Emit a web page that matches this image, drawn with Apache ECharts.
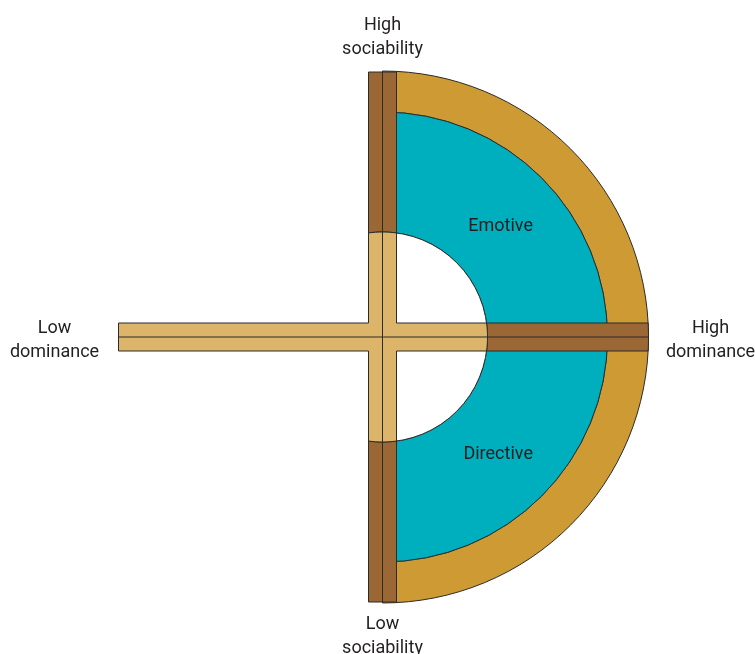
<!DOCTYPE html>
<html>
<head>
<meta charset="utf-8">
<script src="https://cdn.jsdelivr.net/npm/echarts@6/dist/echarts.min.js"></script>
<style>
html,body{margin:0;padding:0;background:#fff;}
#chart{width:755px;height:654px;}
</style>
</head>
<body>
<div id="chart"></div>
<script>
// ---- data ----
const bandRadii = [105, 225, 266];          // hole edge, quadrant edge, rim (diagram units)
const quadrantLabels = ['Emotive', 'Directive'];
const axisEndLabels = ['High\nsociability', 'Low\nsociability', 'Low\ndominance', 'High\ndominance'];
const lowDominanceArm = 264;                 // length of the low-dominance arm
const armHalfWidth = 14;

// ---- styles ----
const C = {
  gold: '#CD9A33', cyan: '#00AFBD', brown: '#9A6735', tan: '#DCB56B',
  stroke: '#2b2b2b', text: '#231f20'
};
const FONT = '18px Roboto, "Noto Sans", sans-serif';
const TEXT_DROP = 3.5; // small downward nudge for glyph baseline

const chart = echarts.init(document.getElementById('chart'), null, {renderer: 'canvas'});

function renderItem(params, api) {
  const [hole, mid, rim] = bandRadii;
  const w = armHalfWidth;
  const c = api.coord([0, 0]);
  const px = v => api.size([v, 0])[0];
  const P = (x, y) => api.coord([x, y]);
  const arcPts = (r, pts, fromA, toA, n) => {
    for (let i = 0; i <= n; i++) {
      const a = fromA + (toA - fromA) * i / n;
      pts.push(P(r * Math.cos(a), r * Math.sin(a)));
    }
  };
  const lineStyle = {stroke: C.stroke, lineWidth: 1};
  const ch = [];
  ch.push({type: 'sector', shape: {cx: c[0], cy: c[1], r0: px(mid), r: px(rim), startAngle: -Math.PI / 2, endAngle: Math.PI / 2, clockwise: true},
    style: Object.assign({fill: C.gold}, lineStyle)});
  ch.push({type: 'sector', shape: {cx: c[0], cy: c[1], r0: px(hole), r: px(mid), startAngle: -Math.PI / 2, endAngle: 0, clockwise: true},
    style: Object.assign({fill: C.cyan}, lineStyle)});
  ch.push({type: 'sector', shape: {cx: c[0], cy: c[1], r0: px(hole), r: px(mid), startAngle: 0, endAngle: Math.PI / 2, clockwise: true},
    style: Object.assign({fill: C.cyan}, lineStyle)});
  ch.push({type: 'sector', shape: {cx: c[0], cy: c[1], r0: 0, r: px(hole), startAngle: -Math.PI / 2, endAngle: Math.PI / 2, clockwise: true},
    style: Object.assign({fill: '#ffffff'}, lineStyle)});

  const aW = Math.asin(w / hole);
  {
    const pts = [P(-w, rim - 1), P(w, rim - 1)];
    arcPts(hole, pts, Math.PI / 2 - aW, Math.PI / 2 + aW, 8);
    ch.push({type: 'polygon', shape: {points: pts}, style: Object.assign({fill: C.brown}, lineStyle)});
  }
  {
    const pts = [P(w, -(rim - 1)), P(-w, -(rim - 1))];
    arcPts(hole, pts, -Math.PI / 2 - aW, -Math.PI / 2 + aW, 8);
    ch.push({type: 'polygon', shape: {points: pts}, style: Object.assign({fill: C.brown}, lineStyle)});
  }
  {
    const aR = Math.asin(w / rim);
    const pts = [];
    arcPts(rim, pts, aR, -aR, 6);
    arcPts(hole, pts, -aW, aW, 8);
    ch.push({type: 'polygon', shape: {points: pts}, style: Object.assign({fill: C.brown}, lineStyle)});
  }
  {
    const L = lowDominanceArm;
    const pts = [P(-L, w), P(-w, w)];
    arcPts(hole, pts, Math.PI / 2 + aW, Math.PI / 2 - aW, 8);
    pts.push(P(w, w));
    arcPts(hole, pts, aW, -aW, 8);
    pts.push(P(w, -w));
    arcPts(hole, pts, -Math.PI / 2 + aW, -Math.PI / 2 - aW, 8);
    pts.push(P(-w, -w), P(-L, -w));
    ch.push({type: 'polygon', shape: {points: pts}, style: Object.assign({fill: C.tan}, lineStyle)});
  }
  {
    const a = P(0, rim - 1), b = P(0, -(rim - 1));
    ch.push({type: 'line', shape: {x1: a[0], y1: a[1], x2: b[0], y2: b[1]}, style: lineStyle});
    const d = P(-lowDominanceArm, 0), e = P(rim, 0);
    ch.push({type: 'line', shape: {x1: d[0], y1: d[1], x2: e[0], y2: e[1]}, style: lineStyle});
  }
  const rm = (hole + mid) / 2;
  quadrantLabels.forEach((t, i) => {
    const sgn = i === 0 ? 1 : -1;
    const p = P(rm * Math.SQRT1_2 + (i === 0 ? 1.5 : -1), sgn * rm * Math.SQRT1_2 - sgn * 3 - TEXT_DROP);
    ch.push({type: 'text', style: {text: t, x: p[0], y: p[1], align: 'center', verticalAlign: 'middle', font: FONT, fill: C.text}});
  });
  const endPos = [[0, rim + 37], [0, -(rim + 30)], [-(lowDominanceArm + 64), 0], [rim + 62, 0]];
  axisEndLabels.forEach((t, i) => {
    const p = P(endPos[i][0], endPos[i][1] - TEXT_DROP);
    ch.push({type: 'text', style: {text: t, x: p[0], y: p[1], align: 'center', verticalAlign: 'middle', font: FONT, fill: C.text, lineHeight: 24}});
  });
  return {type: 'group', children: ch};
}

chart.setOption({
  animation: false,
  grid: {left: 0, right: 0, top: 0, bottom: 0},
  xAxis: {type: 'value', min: -382.5, max: 372.5, show: false},
  yAxis: {type: 'value', min: -317, max: 337, show: false},
  series: [{
    type: 'custom',
    clip: false,
    renderItem: renderItem,
    data: [[0, 0]]
  }]
});
</script>
</body>
</html>
